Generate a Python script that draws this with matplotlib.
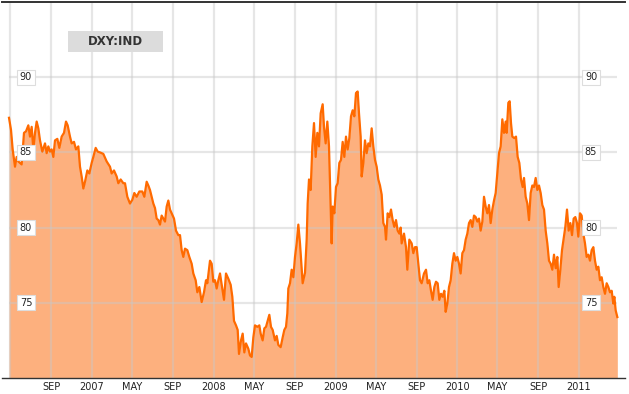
import matplotlib
matplotlib.use("Agg")
import matplotlib.pyplot as plt
import matplotlib.transforms as mtransforms
from matplotlib.patches import Rectangle
import pandas as pd

# DXY:IND (date, index level)
dates = [
    "2006-04-27", "2006-05-03", "2006-05-08", "2006-05-15", "2006-05-20", "2006-05-25", "2006-06-04",
    "2006-06-11", "2006-06-17", "2006-06-24", "2006-06-29", "2006-07-04", "2006-07-09", "2006-07-14",
    "2006-07-19", "2006-07-24", "2006-07-29", "2006-08-05", "2006-08-13", "2006-08-18", "2006-08-23",
    "2006-08-28", "2006-09-02", "2006-09-07", "2006-09-12", "2006-09-19", "2006-09-25", "2006-10-02",
    "2006-10-09", "2006-10-15", "2006-10-20", "2006-10-27", "2006-11-01", "2006-11-08", "2006-11-14",
    "2006-11-21", "2006-11-26", "2006-12-01", "2006-12-06", "2006-12-11", "2006-12-18", "2006-12-24",
    "2006-12-31", "2007-01-05", "2007-01-12", "2007-01-18", "2007-01-25", "2007-02-04", "2007-02-14",
    "2007-02-24", "2007-03-01", "2007-03-08", "2007-03-16", "2007-03-21", "2007-03-28", "2007-04-05",
    "2007-04-10", "2007-04-17", "2007-04-25", "2007-05-02", "2007-05-08", "2007-05-15", "2007-05-23",
    "2007-06-01", "2007-06-07", "2007-06-14", "2007-06-19", "2007-06-24", "2007-06-29", "2007-07-04",
    "2007-07-09", "2007-07-14", "2007-07-19", "2007-07-24", "2007-07-29", "2007-08-03", "2007-08-08",
    "2007-08-13", "2007-08-18", "2007-08-23", "2007-08-28", "2007-09-04", "2007-09-10", "2007-09-17",
    "2007-09-22", "2007-09-27", "2007-10-02", "2007-10-07", "2007-10-14", "2007-10-20", "2007-10-27",
    "2007-11-01", "2007-11-08", "2007-11-13", "2007-11-19", "2007-11-26", "2007-12-03", "2007-12-09",
    "2007-12-13", "2007-12-21", "2007-12-26", "2007-12-31", "2008-01-05", "2008-01-10", "2008-01-15",
    "2008-01-20", "2008-01-25", "2008-02-01", "2008-02-07", "2008-02-14", "2008-02-21", "2008-02-26",
    "2008-03-02", "2008-03-08", "2008-03-13", "2008-03-17", "2008-03-23", "2008-03-28", "2008-04-02",
    "2008-04-07", "2008-04-14", "2008-04-19", "2008-04-24", "2008-04-29", "2008-05-04", "2008-05-11",
    "2008-05-17", "2008-05-21", "2008-05-27", "2008-06-01", "2008-06-06", "2008-06-11", "2008-06-16",
    "2008-06-21", "2008-06-26", "2008-07-03", "2008-07-08", "2008-07-13", "2008-07-20", "2008-07-26",
    "2008-07-31", "2008-08-05", "2008-08-09", "2008-08-12", "2008-08-17", "2008-08-22", "2008-08-27",
    "2008-09-01", "2008-09-06", "2008-09-11", "2008-09-16", "2008-09-24", "2008-10-01", "2008-10-06",
    "2008-10-09", "2008-10-13", "2008-10-18", "2008-10-23", "2008-10-28", "2008-11-02", "2008-11-07",
    "2008-11-12", "2008-11-17", "2008-11-23", "2008-11-27", "2008-12-02", "2008-12-07", "2008-12-12",
    "2008-12-16", "2008-12-20", "2008-12-23", "2008-12-28", "2009-01-02", "2009-01-07", "2009-01-12",
    "2009-01-17", "2009-01-22", "2009-01-27", "2009-02-01", "2009-02-06", "2009-02-11", "2009-02-16",
    "2009-02-21", "2009-02-26", "2009-03-03", "2009-03-08", "2009-03-12", "2009-03-17", "2009-03-20",
    "2009-03-25", "2009-03-30", "2009-04-04", "2009-04-09", "2009-04-14", "2009-04-19", "2009-04-24",
    "2009-04-29", "2009-05-04", "2009-05-09", "2009-05-14", "2009-05-19", "2009-05-24", "2009-05-29",
    "2009-06-01", "2009-06-06", "2009-06-11", "2009-06-16", "2009-06-21", "2009-06-26", "2009-07-01",
    "2009-07-06", "2009-07-11", "2009-07-15", "2009-07-18", "2009-07-25", "2009-07-31", "2009-08-04",
    "2009-08-10", "2009-08-17", "2009-08-22", "2009-08-27", "2009-09-01", "2009-09-06", "2009-09-11",
    "2009-09-16", "2009-09-23", "2009-09-29", "2009-10-04", "2009-10-09", "2009-10-14", "2009-10-19",
    "2009-10-24", "2009-10-29", "2009-11-03", "2009-11-08", "2009-11-13", "2009-11-18", "2009-11-23",
    "2009-11-27", "2009-12-02", "2009-12-07", "2009-12-12", "2009-12-17", "2009-12-22", "2009-12-27",
    "2010-01-01", "2010-01-06", "2010-01-11", "2010-01-16", "2010-01-21", "2010-01-26", "2010-01-31",
    "2010-02-05", "2010-02-10", "2010-02-15", "2010-02-20", "2010-02-25", "2010-03-02", "2010-03-07",
    "2010-03-12", "2010-03-17", "2010-03-22", "2010-03-27", "2010-04-01", "2010-04-06", "2010-04-11",
    "2010-04-16", "2010-04-21", "2010-04-26", "2010-05-01", "2010-05-06", "2010-05-11", "2010-05-16",
    "2010-05-21", "2010-05-26", "2010-05-29", "2010-06-03", "2010-06-07", "2010-06-11", "2010-06-15",
    "2010-06-21", "2010-06-26", "2010-07-01", "2010-07-06", "2010-07-11", "2010-07-16", "2010-07-20",
    "2010-07-25", "2010-07-30", "2010-08-04", "2010-08-09", "2010-08-14", "2010-08-19", "2010-08-24",
    "2010-08-29", "2010-09-03", "2010-09-08", "2010-09-13", "2010-09-18", "2010-09-23", "2010-09-28",
    "2010-10-03", "2010-10-08", "2010-10-13", "2010-10-18", "2010-10-23", "2010-10-28", "2010-11-01",
    "2010-11-06", "2010-11-11", "2010-11-16", "2010-11-21", "2010-11-26", "2010-12-01", "2010-12-06",
    "2010-12-11", "2010-12-16", "2010-12-21", "2010-12-26", "2010-12-30", "2011-01-04", "2011-01-09",
    "2011-01-14", "2011-01-19", "2011-01-24", "2011-01-29", "2011-02-03", "2011-02-08", "2011-02-13",
    "2011-02-18", "2011-02-23", "2011-02-28", "2011-03-05", "2011-03-10", "2011-03-15", "2011-03-20",
    "2011-03-25", "2011-03-30", "2011-04-04", "2011-04-09", "2011-04-14", "2011-04-17", "2011-04-21",
    "2011-04-26",
]
values = [
    87.3, 86.5, 85.2, 84.05, 84.7, 84.4, 84.2,
    86.3, 86.4, 86.8, 86.05, 86.7, 85.2, 86.3,
    87.05, 86.6, 85.8, 85.05, 85.6, 84.95, 85.4,
    85.05, 85.2, 84.7, 85.8, 85.9, 85.3, 86.05,
    86.3, 87.05, 86.8, 86.05, 85.6, 85.7, 85.2,
    85.4, 84.05, 83.4, 82.6, 83.05, 83.8, 83.6,
    84.3, 84.7, 85.3, 85.05, 85.0, 84.9, 84.4,
    84.05, 83.6, 83.8, 83.4, 82.95, 83.2, 82.95,
    82.95, 82.05, 81.6, 81.85, 82.3, 82.05, 82.4,
    82.4, 82.05, 83.05, 82.8, 82.5, 82.05, 81.6,
    81.3, 80.6, 80.5, 80.2, 80.8, 80.6, 80.4,
    81.4, 81.8, 81.2, 80.95, 80.6, 79.8, 79.5,
    79.5, 78.5, 78.05, 78.6, 78.5, 78.05, 77.6,
    76.95, 76.5, 75.7, 76.05, 75.05, 75.7, 76.5,
    76.3, 77.8, 77.6, 76.4, 76.5, 75.95, 76.5,
    76.95, 76.2, 75.2, 76.95, 76.6, 76.2, 75.4,
    73.8, 73.5, 73.2, 71.6, 72.5, 72.95, 71.7,
    72.3, 71.95, 71.5, 71.4, 72.7, 73.5, 73.4,
    73.5, 72.95, 72.5, 73.3, 73.4, 73.8, 74.2,
    73.4, 73.2, 72.5, 72.8, 72.2, 72.05, 72.7,
    73.2, 73.4, 74.3, 75.95, 76.3, 77.2, 76.7,
    78.05, 78.95, 80.2, 78.95, 76.3, 77.0, 79.2,
    81.6, 83.2, 82.5, 85.4, 86.95, 84.7, 86.3,
    85.4, 87.6, 88.2, 86.7, 85.6, 87.05, 85.4,
    82.05, 78.95, 81.4, 80.95, 82.7, 82.95, 84.3,
    84.5, 85.7, 84.7, 86.05, 85.2, 85.95, 87.4,
    87.8, 87.4, 88.95, 89.05, 87.6, 86.05, 83.4,
    84.3, 85.8, 84.95, 85.6, 85.4, 86.6, 85.4,
    84.5, 84.05, 83.2, 82.8, 82.2, 80.3, 80.05,
    79.2, 80.95, 80.7, 81.2, 80.5, 80.05, 80.5,
    79.8, 79.6, 80.0, 78.95, 79.6, 78.7, 77.2,
    79.2, 78.95, 78.3, 78.7, 78.7, 77.6, 76.5,
    76.3, 76.95, 77.2, 76.3, 76.5, 75.8, 75.2,
    76.05, 76.4, 76.3, 75.2, 75.6, 75.4, 75.8,
    74.4, 74.95, 76.05, 76.5, 77.6, 78.3, 77.8,
    78.05, 77.6, 76.95, 78.3, 78.5, 79.2, 79.6,
    80.3, 80.5, 80.05, 80.8, 80.7, 80.4, 80.6,
    79.8, 80.4, 82.05, 81.4, 80.95, 81.5, 80.3,
    81.2, 81.8, 82.3, 83.6, 84.95, 85.4, 87.2,
    86.3, 87.05, 86.3, 88.3, 88.4, 86.95, 86.05,
    85.95, 86.05, 84.7, 84.3, 83.2, 82.7, 83.3,
    82.05, 81.6, 80.5, 82.3, 82.8, 82.7, 83.3,
    82.5, 82.8, 82.3, 81.5, 81.2, 79.8, 78.95,
    77.8, 77.6, 77.2, 78.2, 77.3, 78.05, 76.05,
    77.2, 78.5, 79.3, 80.05, 81.2, 79.8, 80.3,
    79.5, 80.6, 80.7, 80.3, 79.4, 80.95, 80.8,
    79.6, 78.95, 78.05, 78.2, 77.8, 78.5, 78.7,
    77.8, 77.2, 77.4, 76.5, 76.7, 76.05, 75.6,
    76.3, 76.05, 75.7, 75.8, 74.95, 75.4, 74.5,
    74.05,
]

grid_months = pd.date_range("2006-05-01", "2011-01-01", freq="4MS")
month_labels = ["", "SEP", "2007", "MAY", "SEP", "2008", "MAY", "SEP",
                "2009", "MAY", "SEP", "2010", "MAY", "SEP", "2011"]
y_levels = [75, 80, 85, 90]

dates = pd.to_datetime(dates)

W, H = 629, 394
fig = plt.figure(figsize=(W / 100, H / 100), dpi=100)
ax = fig.add_axes([2 / W, 16 / H, 623 / W, 376 / H])

ax.set_xlim(pd.Timestamp("2006-04-06"), pd.Timestamp("2011-05-19"))
ax.set_ylim(70, 95)

# area + line
ax.fill_between(dates, values, 70, color="#fdb07e", lw=0, zorder=1)
ax.plot(dates, values, color="#ff6a00", lw=1.6, zorder=3)

# grid
ax.vlines(grid_months, 70, 95, color="#c8c8c8", alpha=0.45, lw=1.6, zorder=2)
ax.hlines(y_levels, dates[0], dates[-1], color="#c8c8c8", alpha=0.45, lw=1.6, zorder=2)

# axes frame
for s in ["left", "right"]:
    ax.spines[s].set_visible(False)
ax.spines["top"].set_color("#333333")
ax.spines["top"].set_linewidth(1.4)
ax.spines["bottom"].set_color("#333333")
ax.spines["bottom"].set_linewidth(1.0)

ax.set_xticks(grid_months)
ax.set_xticklabels(month_labels)
ax.set_yticks([])
ax.tick_params(axis="x", length=0, labelsize=7, pad=3, colors="#222222")

# y labels in little boxes, both sides
trans = mtransforms.blended_transform_factory(fig.transFigure, ax.transData)
box = dict(boxstyle="square,pad=0.25", fc="white", ec="#dddddd", lw=0.8)
for v in y_levels:
    for xf in (26 / W, 591 / W):
        ax.text(xf, v, str(v), transform=trans, ha="center", va="center",
                fontsize=7, color="#222222", bbox=box, zorder=5)

# ticker box
fig.patches.append(Rectangle((68 / W, 1 - 52 / H), 95 / W, 21 / H,
                             transform=fig.transFigure, fc="#dcdcdc", ec="none"))
fig.text(115.5 / W, 1 - 41.5 / H, "DXY:IND", ha="center", va="center",
         fontsize=8.5, fontweight="bold", color="#333333")

fig.savefig("out.png", dpi=100)
